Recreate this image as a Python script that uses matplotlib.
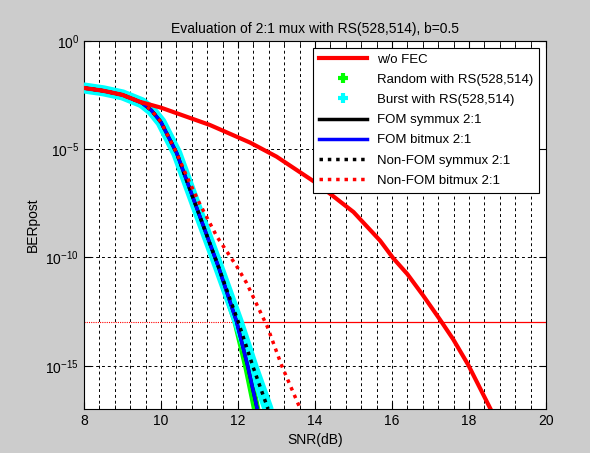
import matplotlib
matplotlib.use("Agg")
import matplotlib.pyplot as plt
from matplotlib.lines import Line2D
from matplotlib.ticker import MultipleLocator, FixedLocator, FuncFormatter
import numpy as np

plt.rcParams['font.family'] = ['Liberation Sans', 'DejaVu Sans']
plt.rcParams['mathtext.fontset'] = 'custom'
plt.rcParams['mathtext.rm'] = 'Liberation Sans'
plt.rcParams['mathtext.it'] = 'Liberation Sans'

# SNR (dB) and log10(BER)
snr_nofec = [8.0, 8.5, 9.0, 9.45, 10.0, 11.27, 12.31, 13.0, 14.04, 15.0, 15.69, 16.03,
             16.4, 16.81, 17.25, 17.59, 17.98, 18.56]
ber_nofec = [-2.17, -2.3, -2.49, -2.81, -3.08, -3.88, -4.69, -5.34, -6.57, -7.9, -9.22, -10.03,
             -10.77, -11.76, -12.88, -13.78, -14.96, -17.0]

# FOM curves (symmux / bitmux, and random-error RS)
snr_fom = [8.0, 8.5, 9.0, 9.5, 9.75, 10.0, 10.41, 11.01, 11.49, 11.96, 12.25, 12.5]
ber_fom = [-2.17, -2.3, -2.49, -2.85, -3.2, -3.75, -5.19, -8.11, -10.42, -12.94, -15.0, -17.0]

snr_random = [8.0, 8.5, 9.0, 9.5, 9.75, 10.0, 10.41, 11.01, 11.49, 11.96, 12.25, 12.47]
ber_random = [-2.17, -2.3, -2.49, -2.85, -3.2, -3.75, -5.19, -8.11, -10.42, -12.94, -15.1, -17.0]

# Non-FOM symmux and burst-error RS
snr_nonfom_sym = [8.0, 8.5, 9.0, 9.5, 9.75, 10.0, 10.41, 11.01, 11.49, 12.0, 12.4, 12.78]
ber_nonfom_sym = [-2.17, -2.3, -2.49, -2.85, -3.2, -3.75, -5.19, -8.11, -10.42, -12.94, -15.1, -17.0]

# Non-FOM bitmux
snr_nonfom_bit = [8.0, 8.5, 9.0, 9.5, 9.75, 10.0, 10.41, 10.67, 11.0, 11.45, 11.97, 12.22, 12.76,
                  13.14, 13.62]
ber_nonfom_bit = [-2.17, -2.3, -2.49, -2.85, -3.2, -3.75, -5.19, -6.26, -7.5, -9.03, -10.42, -11.17,
                  -13.19, -15.02, -17.0]

ber_limit = -13.0

labels = ['w/o FEC', 'Random with RS(528,514)', 'Burst with RS(528,514)',
          'FOM symmux 2:1', 'FOM bitmux 2:1', 'Non-FOM symmux 2:1', 'Non-FOM bitmux 2:1']

fig = plt.figure(figsize=(5.9, 4.53), dpi=100, facecolor='#cccccc')
ax = fig.add_axes([0.1424, 0.0971, 0.7830, 0.8124])

p = lambda v: 10.0 ** np.array(v)

ax.plot(snr_random, p(ber_random), color='#00ff00', lw=6, solid_capstyle='round', zorder=3)
ax.plot(snr_nonfom_sym, p(ber_nonfom_sym), color='cyan', lw=8, solid_capstyle='round', zorder=4)
ax.plot(snr_fom, p(ber_fom), color='black', lw=2.5, zorder=5)
ax.plot(snr_fom, p(ber_fom), color='blue', lw=2.5, zorder=6)
ax.plot(snr_nonfom_sym, p(ber_nonfom_sym), color='black', lw=2.5, ls=(0, (1, 1.4)), zorder=7)
ax.plot(snr_nonfom_bit, p(ber_nonfom_bit), color='red', lw=2.5, ls=(0, (1, 1.4)), zorder=8)
ax.plot(snr_nofec, p(ber_nofec), color='red', lw=3, zorder=9)

ax.plot([8, 12], [10 ** ber_limit] * 2, color='red', lw=0.8, ls=(0, (1, 1)), zorder=2)
ax.plot([12, 20], [10 ** ber_limit] * 2, color='red', lw=0.9, zorder=2)

ax.set_yscale('log')
ax.set_xlim(8, 20)
ax.set_ylim(1e-17, 1)
ax.xaxis.set_major_locator(MultipleLocator(2))
ax.xaxis.set_minor_locator(MultipleLocator(0.4))
ax.yaxis.set_major_locator(FixedLocator([1e0, 1e-5, 1e-10, 1e-15]))
ax.yaxis.set_minor_locator(FixedLocator([]))
ax.yaxis.set_major_formatter(FuncFormatter(lambda v, pos: r'$10^{%d}$' % round(np.log10(v))))
ax.tick_params(which='both', direction='in', top=True, right=True, labelsize=10)
ax.tick_params(which='major', length=5)
ax.tick_params(which='minor', length=3)

ax.grid(True, axis='x', which='both', color='black', ls=(0, (3, 3)), lw=0.7)
ax.grid(True, axis='y', which='major', color='black', ls=(0, (3, 3)), lw=0.7)
ax.set_axisbelow(True)

ax.set_xlabel('SNR(dB)', fontsize=10)
ax.set_ylabel('BERpost', fontsize=10)
ax.set_title('Evaluation of 2:1 mux with RS(528,514), b=0.5', fontsize=10)

handles = [
    Line2D([], [], color='red', lw=3),
    Line2D([], [], color='#00ff00', ls='none', marker='+', ms=7, mew=3),
    Line2D([], [], color='cyan', ls='none', marker='+', ms=7, mew=3),
    Line2D([], [], color='black', lw=2.5),
    Line2D([], [], color='blue', lw=2.5),
    Line2D([], [], color='black', lw=2.5, ls=(0, (1, 1.4))),
    Line2D([], [], color='red', lw=2.5, ls=(0, (1, 1.4))),
]
leg = ax.legend(handles, labels, loc='upper right', fontsize=9.5, fancybox=False,
                framealpha=1, edgecolor='black', handlelength=3.6, borderaxespad=0.5,
                labelspacing=0.6, borderpad=0.45)
leg.get_frame().set_linewidth(0.8)
leg.set_zorder(20)

fig.savefig('out.png', dpi=100, facecolor=fig.get_facecolor())
